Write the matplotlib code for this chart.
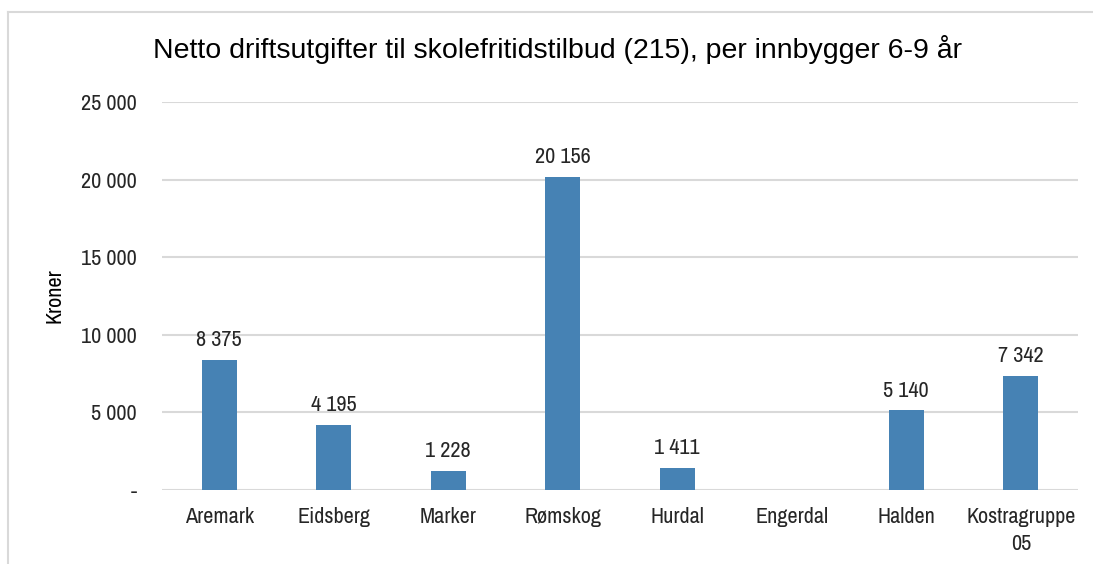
import matplotlib
matplotlib.use("Agg")
import matplotlib.pyplot as plt
from matplotlib.lines import Line2D
import numpy as np

categories = ["Aremark", "Eidsberg", "Marker", "Rømskog", "Hurdal", "Engerdal", "Halden", "Kostragruppe\n05"]
values = [8375, 4195, 1228, 20156, 1411, np.nan, 5140, 7342]
yticks = [0, 5000, 10000, 15000, 20000, 25000]
title = "Netto driftsutgifter til skolefritidstilbud (215), per innbygger 6-9 år"
ylabel = "Kroner"

NARROW = ['Archivo Narrow', 'Liberation Sans', 'DejaVu Sans']
plt.rcParams['font.family'] = ['Liberation Sans', 'DejaVu Sans']

def fmt(v):
    if v == 0:
        return "-"
    return f"{int(round(v)):,}".replace(",", " ")

W, H = 1093, 564
fig = plt.figure(figsize=(W/100, H/100), dpi=100)
ax = fig.add_axes([162/W, 1-490/H, (1078-162)/W, (490-102)/H])

fs = 16
x = np.arange(len(categories))
ax.bar(x, values, width=0.31, color="#4682B4", zorder=3)
for xi, v in zip(x, values):
    if not np.isnan(v):
        ax.annotate(fmt(v), (xi, v), xytext=(0, 7), textcoords="offset points",
                    ha="center", va="bottom", fontsize=fs, color="#262626", family=NARROW)

ax.set_xlim(-0.5, len(categories)-0.5)
ax.set_ylim(0, 25000)
ax.set_yticks(yticks)
ax.set_yticklabels([fmt(t) for t in yticks], fontsize=fs, color="#262626", family=NARROW)
ax.set_xticks(x)
ax.set_xticklabels(categories, fontsize=fs, color="#262626", linespacing=1.45, family=NARROW)
ax.tick_params(axis="both", length=0)
ax.tick_params(axis="y", pad=18)
ax.tick_params(axis="x", pad=12)
ax.grid(axis="y", color="#d9d9d9", linewidth=1.5, zorder=0)
for s in ax.spines.values():
    s.set_visible(False)
ax.set_ylabel(ylabel, fontsize=fs, color="#000000", labelpad=12, family=NARROW)

fig.text(557/W, 1-50/H, title, ha="center", va="center", fontsize=20.5, color="#000000")

fig.add_artist(Line2D([8/W, 8/W], [0, 1-12/H], color="#d9d9d9", linewidth=1.5, transform=fig.transFigure))
fig.add_artist(Line2D([8/W, 1], [1-12/H, 1-12/H], color="#d9d9d9", linewidth=1.5, transform=fig.transFigure))

fig.savefig("out.png", dpi=100)
